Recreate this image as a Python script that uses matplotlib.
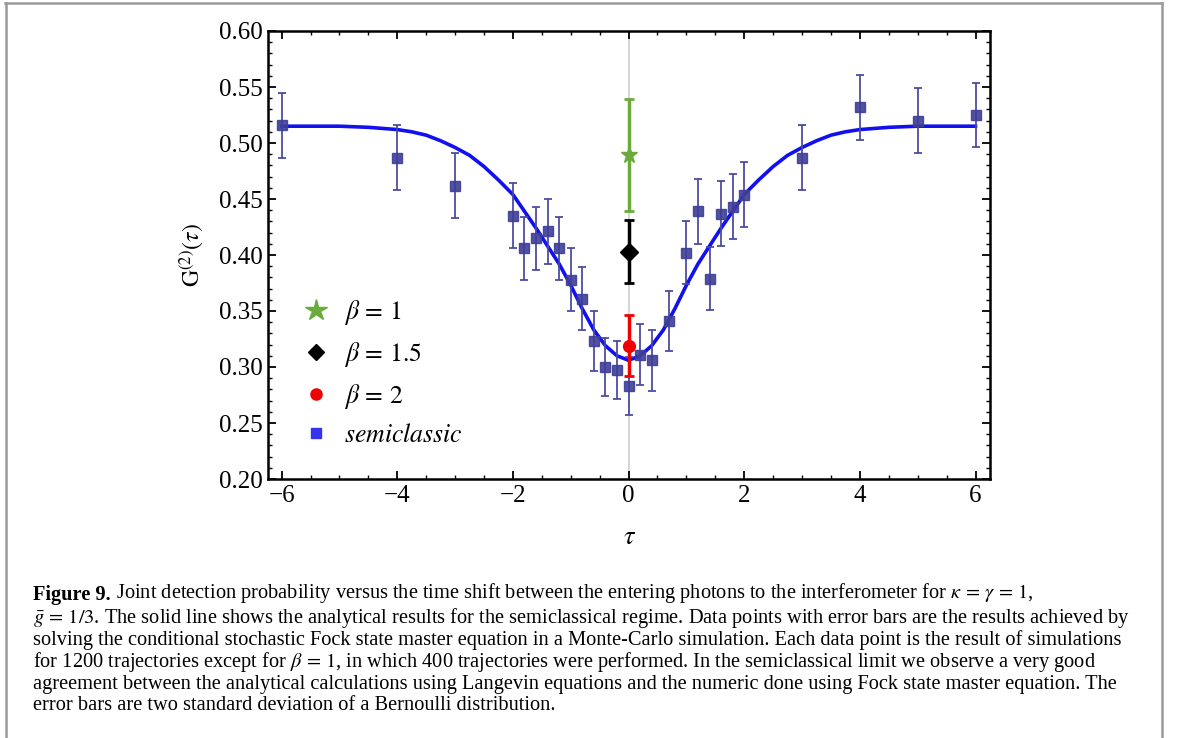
import matplotlib
matplotlib.use('Agg')
import matplotlib.pyplot as plt
from matplotlib.lines import Line2D
from matplotlib.text import Annotation
from matplotlib.ticker import MultipleLocator, FormatStrFormatter

# semiclassical simulation points (tau, G2, error)
tau = [-6, -4, -3, -2, -1.8, -1.6, -1.4, -1.2, -1.0, -0.8, -0.6, -0.4, -0.2, 0,
       0.2, 0.4, 0.7, 1.0, 1.2, 1.4, 1.6, 1.8, 2.0, 3, 4, 5, 6]
g2 = [0.516, 0.487, 0.462, 0.435, 0.406, 0.415, 0.421, 0.406, 0.378, 0.361, 0.323, 0.300, 0.297, 0.283,
      0.311, 0.306, 0.341, 0.402, 0.439, 0.379, 0.437, 0.443, 0.454, 0.487, 0.532, 0.520, 0.525]
g2_err = [0.029, 0.029, 0.029, 0.029, 0.028, 0.028, 0.029, 0.028, 0.028, 0.028, 0.027, 0.026, 0.026, 0.026,
          0.027, 0.027, 0.027, 0.028, 0.029, 0.028, 0.029, 0.029, 0.029, 0.029, 0.029, 0.029, 0.029]

# analytical curve
curve_x = [-6, -5, -4.5, -4, -3.75, -3.5, -3.25, -3, -2.75, -2.5, -2.25, -2, -1.8, -1.6, -1.4, -1.2, -1.0, -0.8,
           -0.6, -0.4, -0.2, 0, 0.2, 0.4, 0.6, 0.8, 1.0, 1.2, 1.4, 1.6, 1.8, 2, 2.25, 2.5, 2.75, 3, 3.25, 3.5,
           3.75, 4, 4.5, 5, 6]
curve_y = [0.515, 0.515, 0.514, 0.512, 0.510, 0.507, 0.502, 0.496, 0.489, 0.479, 0.467, 0.454, 0.439, 0.424,
           0.408, 0.392, 0.373, 0.352, 0.333, 0.319, 0.310, 0.306, 0.310, 0.319, 0.333, 0.352, 0.373, 0.392,
           0.408, 0.424, 0.439, 0.454, 0.467, 0.479, 0.489, 0.496, 0.502, 0.507, 0.510, 0.512, 0.514, 0.515, 0.515]

# beta points at tau = 0
beta_labels = [r'$\beta\,=\,1$', r'$\beta\,=\,1.5$', r'$\beta\,=\,2$']
beta_g2 = [0.489, 0.403, 0.319]
beta_err = [0.050, 0.028, 0.027]

plt.rcParams['font.family'] = ['Liberation Serif', 'DejaVu Serif']
plt.rcParams['mathtext.fontset'] = 'stix'

fig = plt.figure(figsize=(11.78, 7.38), dpi=100)
ax = fig.add_axes([268.3/1178, 1-479/738, (990-268.3)/1178, (479-31)/738])

ax.axvline(0, color='#cfcfcf', lw=1.2, zorder=0)
ax.plot(curve_x, curve_y, color='#1010f0', lw=2.6, zorder=2)
ax.errorbar(tau, g2, yerr=g2_err, fmt='s', color='#4848a0', mfc='#3e3e98', mec='#3e3e98',
            ms=6.5, capsize=3, elinewidth=1.4, capthick=1.4, alpha=0.9, zorder=3)
ax.errorbar([0], [beta_g2[0]], yerr=[beta_err[0]], fmt='*', color='#6aab3c', ms=12,
            capsize=3.5, elinewidth=2.5, capthick=2, zorder=4)
ax.errorbar([0], [beta_g2[1]], yerr=[beta_err[1]], fmt='D', color='black', ms=9,
            capsize=3.5, elinewidth=2.5, capthick=2, zorder=4)
ax.errorbar([0], [beta_g2[2]], yerr=[beta_err[2]], fmt='o', color='#f00000', ms=8.5,
            capsize=3.5, elinewidth=2.5, capthick=2, zorder=5)

ax.set_xlim(-6.23, 6.25)
ax.set_ylim(0.20, 0.60)
ax.xaxis.set_major_locator(MultipleLocator(2))
ax.xaxis.set_minor_locator(MultipleLocator(0.5))
ax.yaxis.set_major_locator(MultipleLocator(0.05))
ax.yaxis.set_minor_locator(MultipleLocator(0.01))
ax.yaxis.set_major_formatter(FormatStrFormatter('%.2f'))
ax.tick_params(which='both', direction='in', top=True, right=True, labelsize=18)
ax.tick_params(which='major', length=6, width=1.3, pad=4)
ax.tick_params(which='minor', length=3, width=1.0)
for s in ax.spines.values():
    s.set_linewidth(1.8)

ax.set_ylabel(r'$\mathrm{G}^{(2)}(\tau)$', fontsize=17)
ax.yaxis.set_label_coords(-0.086, 0.5)
ax.set_xlabel(r'$\tau$', fontsize=19)
ax.xaxis.set_label_coords(0.5, -0.108)

handles = [Line2D([], [], ls='none', marker='*', color='#6aab3c', ms=16),
           Line2D([], [], ls='none', marker='D', color='black', ms=8),
           Line2D([], [], ls='none', marker='o', color='#f00000', ms=8),
           Line2D([], [], ls='none', marker='s', color='#3434ee', ms=7)]
labels = beta_labels + [r'$\mathit{semiclassic}$']
ax.legend(handles, labels, loc='lower left', bbox_to_anchor=(0.012, 0.02), frameon=False,
          fontsize=18.5, labelspacing=0.5, handletextpad=0.5, handlelength=1.2)

# caption
cx = 33/1178
fs = 14.7
lines = [
    r'Joint detection probability versus the time shift between the entering photons to the interferometer for $\kappa\,=\,\gamma\,=\,1$,',
    r'$\bar{g}\,=\,1/3$. The solid line shows the analytical results for the semiclassical regime. Data points with error bars are the results achieved by',
    'solving the conditional stochastic Fock state master equation in a Monte-Carlo simulation. Each data point is the result of simulations',
    r'for 1200 trajectories except for $\beta\,=\,1$, in which 400 trajectories were performed. In the semiclassical limit we observe a very good',
    'agreement between the analytical calculations using Langevin equations and the numeric done using Fock state master equation. The',
    'error bars are two standard deviation of a Bernoulli distribution.',
]
ys = [595, 618, 640, 662, 684, 705]
head = fig.text(cx, 1-ys[0]/738, 'Figure 9.', fontsize=fs, fontweight='bold', va='center')
fig.add_artist(Annotation(' ' + lines[0], xy=(1, 0), xycoords=head, fontsize=fs, va='bottom'))
for t, y in zip(lines[1:], ys[1:]):
    fig.text(cx, 1-y/738, t, fontsize=fs, va='center')

# page frame
fig.add_artist(Line2D([5/1178, 1162/1178], [1-3/738, 1-3/738], color='#999999', lw=1.8))
fig.add_artist(Line2D([6/1178, 6/1178], [0, 1-3/738], color='#999999', lw=1.8))
fig.add_artist(Line2D([1162/1178, 1162/1178], [0, 1-3/738], color='#999999', lw=1.8))

fig.savefig('out.png', dpi=100)
